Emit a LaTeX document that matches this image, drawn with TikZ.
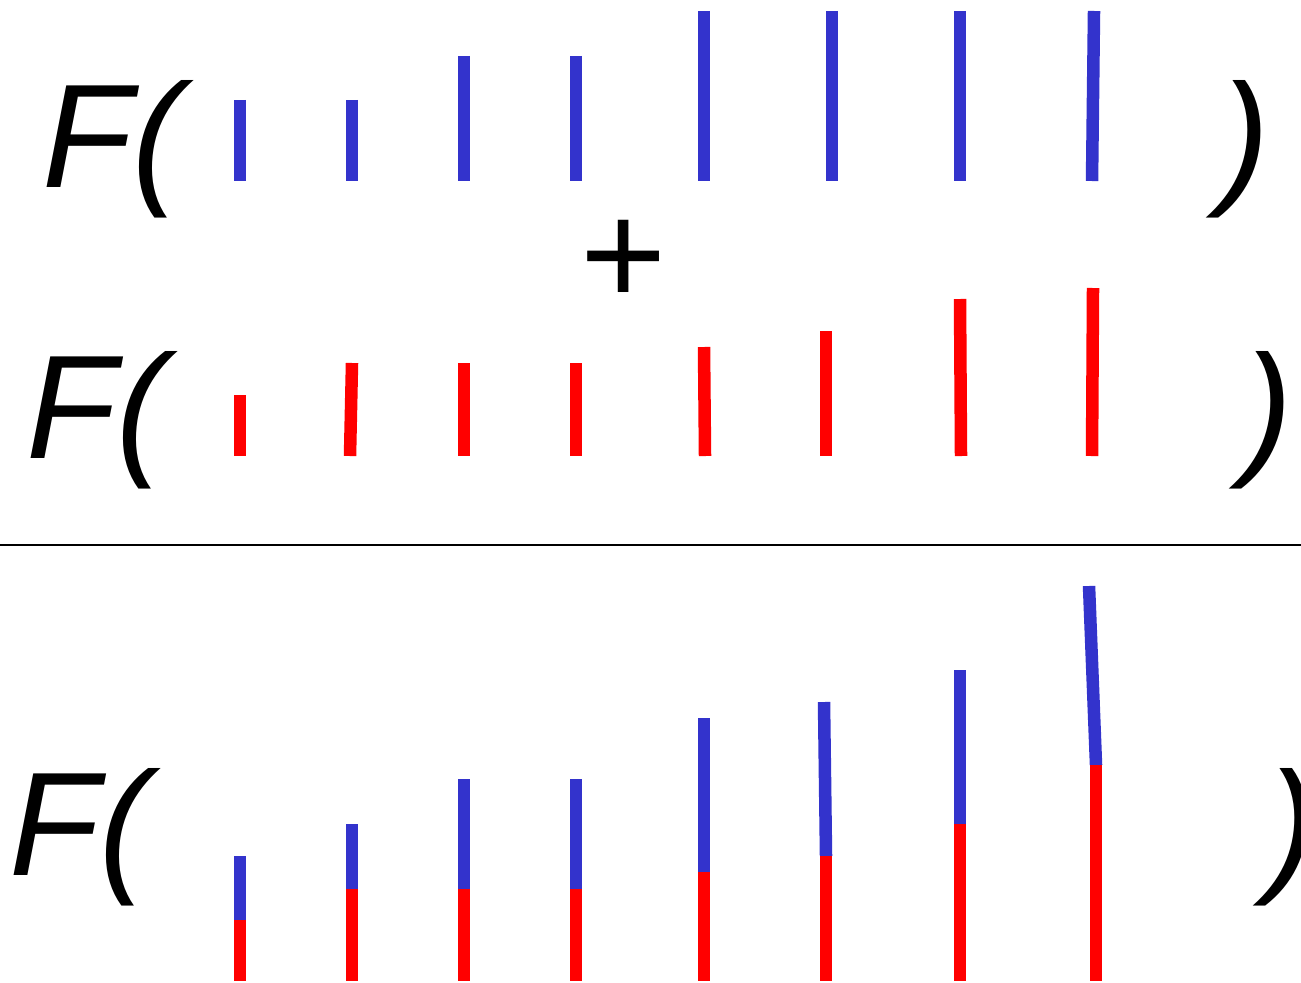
\documentclass[tikz,border=0pt]{standalone}
\usepackage{fontspec}
\setmainfont{Liberation Sans}
\definecolor{barblue}{RGB}{51,51,204}
\definecolor{barred}{RGB}{255,0,0}

\begin{document}
\begin{tikzpicture}[
    x=0.01cm, y=-0.01cm,
    sym/.style={font=\fontsize{42}{42}\selectfont\itshape, inner sep=0pt, anchor=base west},
    bluebar/.style={draw=barblue, line width=0.125cm},
    redbar/.style={draw=barred, line width=0.125cm}
]
\useasboundingbox (0,0) rectangle (1301,982);

% first argument
\node[sym] (fa) at (42,187) {F(};
\node[sym] (ca) at (1220,187) {)};
\foreach \xt/\xb/\t in {240/240/100, 352/352/100, 464/464/56, 576/576/56,
    704/704/11, 832/832/11, 960/960/11, 1094/1092/11}
  \draw[bluebar] (\xt,\t) -- (\xb,181);

\node[font=\fontsize{42}{42}\selectfont, inner sep=0pt] (plus) at (624,263) {+};

% second argument
\node[sym] (fb) at (26,458) {F(};
\node[sym] (cb) at (1243,458) {)};
\foreach \xt/\xb/\t in {240/240/395, 352/350/363, 464/464/363, 576/576/363,
    704/705/347, 826/826/331, 960/961/299, 1093/1092/288}
  \draw[redbar] (\xt,\t) -- (\xb,456);

\draw[line width=0.02cm] (0,545) -- (1301,545);

% sum
\node[sym] (fc) at (9,875) {F(};
\node[sym] (cc) at (1267,875) {)};
\foreach \xt/\xm/\b/\r in {240/240/856/920, 352/352/824/889, 464/464/779/889,
    576/576/779/889, 704/704/718/872, 824/826/702/856, 960/960/670/824,
    1089/1096/586/765}
{
  \draw[bluebar] (\xt,\b) -- (\xm,\r);
  \draw[redbar] (\xm,\r) -- (\xm,981);
}
\end{tikzpicture}
\end{document}
